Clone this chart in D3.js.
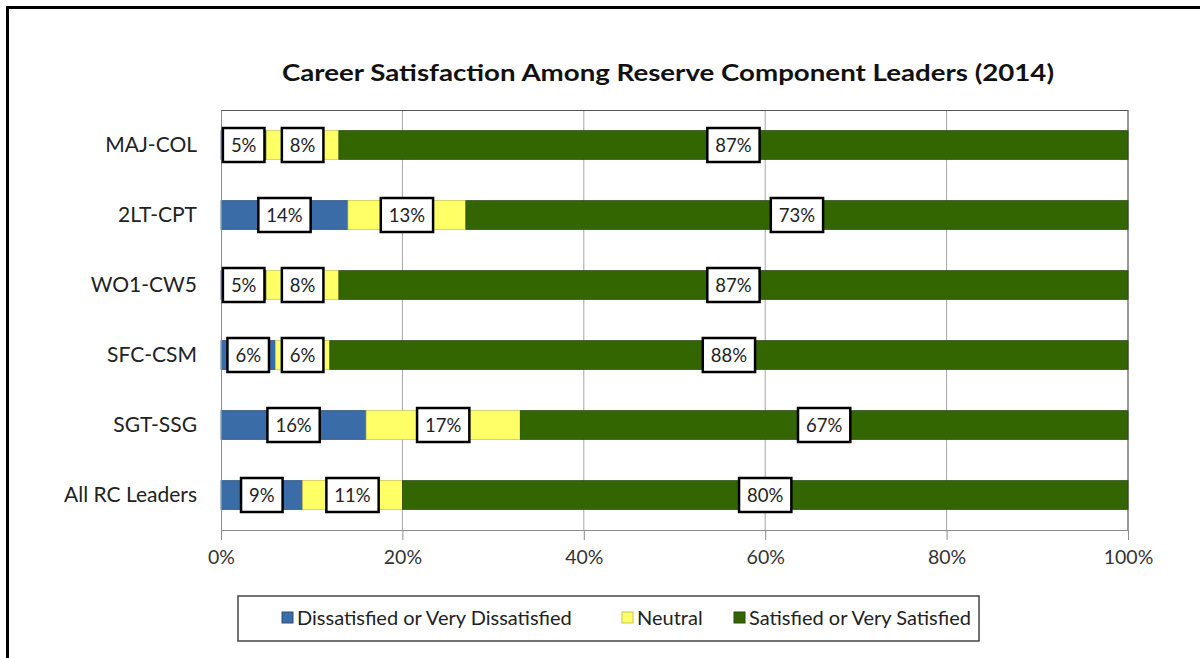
<!DOCTYPE html>
<html>
<head>
<meta charset="utf-8">
<script src="https://cdn.jsdelivr.net/npm/d3@7"></script>
<style>
  body { margin: 0; background: #fff; }
  svg { display: block; font-family: Lato, "Open Sans", sans-serif; }
</style>
</head>
<body>
<svg></svg>
<script>
const categories = ["MAJ-COL", "2LT-CPT", "WO1-CW5", "SFC-CSM", "SGT-SSG", "All RC Leaders"];
const dissatisfied = [5, 14, 5, 6, 16, 9];
const neutral = [8, 13, 8, 6, 17, 11];
const satisfied = [87, 73, 87, 88, 67, 80];
const seriesNames = ["Dissatisfied or Very Dissatisfied", "Neutral", "Satisfied or Very Satisfied"];
const xTicks = [0, 20, 40, 60, 80, 100];

const colors = ["#3a6ca8", "#ffff66", "#336600"];
const strokes = ["#2c4f7a", "#c8c850", "#2a4a10"];

const svg = d3.select('svg');
svg.attr("width", 1200).attr("height", 658);

// outer frame, only left and top edges show in the picture
svg.append('path').attr("d", "M7.5,658V7.5H1200")
    .attr("fill", "none").attr("stroke", "#000").attr("stroke-width", 3);

const margin = { top: 110, left: 221, right: 72, bottom: 128 };
const innerWidth = 1200 - margin.left - margin.right;
const innerHeight = 658 - margin.top - margin.bottom;

const table = categories.map((c, i) => ({
    cat: c,
    [seriesNames[0]]: dissatisfied[i],
    [seriesNames[1]]: neutral[i],
    [seriesNames[2]]: satisfied[i]
}));
const stacked = d3.stack().keys(seriesNames)(table);

const g = svg.append('g').attr("transform", `translate(${margin.left},${margin.top})`);
const xScale = d3.scaleLinear().domain([0, 100]).range([0, innerWidth]);
const yScale = d3.scaleBand().domain(categories).range([0, innerHeight]).paddingInner(0.59).paddingOuter(0.295);

// gridlines
g.selectAll('.grid').data(xTicks.slice(1, -1)).enter().append('line')
    .attr("x1", d => xScale(d)).attr("x2", d => xScale(d))
    .attr("y1", 0).attr("y2", innerHeight)
    .attr("stroke", "#a6a6a6").attr("stroke-width", 1);

// plot border top/right
g.append('path').attr("d", `M0,0.5H${innerWidth}V${innerHeight}`)
    .attr("fill", "none").attr("stroke", "#555").attr("stroke-width", 1.2);

// bars
stacked.forEach((s, si) => {
    g.selectAll('.bar' + si).data(s).enter().append('rect')
        .attr("x", d => xScale(d[0]))
        .attr("width", d => xScale(d[1]) - xScale(d[0]))
        .attr("y", d => yScale(d.data.cat))
        .attr("height", yScale.bandwidth())
        .attr("fill", colors[si])
        .attr("stroke", strokes[si]).attr("stroke-width", 0.8);
});

// axes
const xAxis = d3.axisBottom(xScale).tickValues(xTicks).tickFormat(d => d + "%").tickSize(10).tickPadding(10);
const xg = g.append('g').attr("transform", `translate(0,${innerHeight})`).call(xAxis);
xg.select('.domain').attr("stroke", "#8c8c8c");
xg.selectAll('.tick line').attr("stroke", "#8c8c8c");
xg.selectAll('text').attr("font-size", 19.5).attr("fill", "#333").attr("font-family", "Lato, sans-serif");

const yAxis = d3.axisLeft(yScale).tickSize(0).tickPadding(24);
const yg = g.append('g').call(yAxis);
yg.select('.domain').attr("stroke", "#8c8c8c");
yg.selectAll('text').attr("font-size", 21).attr("fill", "#222").attr("font-family", "Lato, sans-serif");

// data labels in boxes
stacked.forEach((s, si) => {
    s.forEach(d => {
        const cx = (xScale(d[0]) + xScale(d[1])) / 2;
        const cy = yScale(d.data.cat) + yScale.bandwidth() / 2;
        const lg = g.append('g');
        const t = lg.append('text').attr("x", cx).attr("y", cy).attr("dy", "0.36em")
            .attr("text-anchor", "middle").attr("font-size", 18.5).attr("fill", "#222")
            .text((d[1] - d[0]) + "%");
        const w = t.node().getComputedTextLength() + 16;
        lg.insert('rect', 'text').attr("x", cx - w / 2).attr("y", cy - 17).attr("width", w).attr("height", 34)
            .attr("fill", "#fff").attr("stroke", "#000").attr("stroke-width", 2.5);
    });
});

// title
svg.append('text').attr("x", 668).attr("y", 81).attr("text-anchor", "middle")
    .attr("font-size", 22).attr("font-weight", "bold").attr("fill", "#111")
    .attr("textLength", 772).attr("lengthAdjust", "spacingAndGlyphs")
    .text("Career Satisfaction Among Reserve Component Leaders (2014)");

// legend
const legend = svg.append('g');
legend.append('rect').attr("x", 238).attr("y", 596).attr("width", 741).attr("height", 45)
    .attr("fill", "#fff").attr("stroke", "#444").attr("stroke-width", 1.5);
const legendX = [282, 622, 734];
seriesNames.forEach((n, i) => {
    legend.append('rect').attr("x", legendX[i]).attr("y", 612).attr("width", 11).attr("height", 11)
        .attr("fill", colors[i]).attr("stroke", strokes[i]);
    legend.append('text').attr("x", legendX[i] + 15).attr("y", 618).attr("dy", "0.36em")
        .attr("font-size", 20).attr("fill", "#222").text(n);
});
</script>
</body>
</html>
